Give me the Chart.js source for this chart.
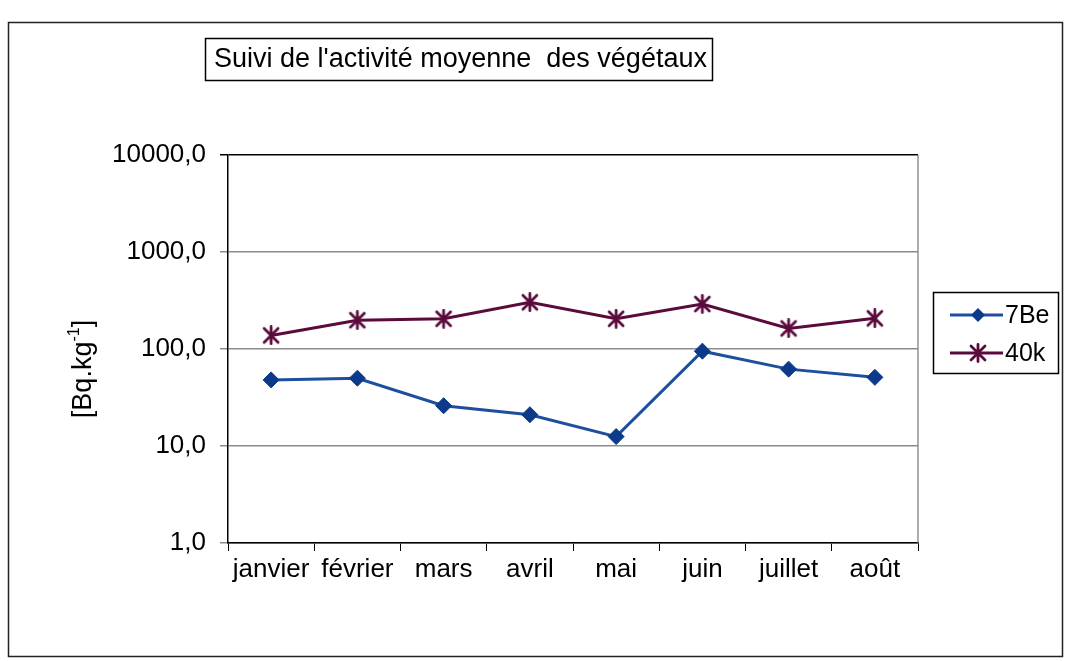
<!DOCTYPE html>
<html>
<head>
<meta charset="utf-8">
<script src="https://cdn.jsdelivr.net/npm/chart.js@4/dist/chart.umd.min.js"></script>
<style>
html,body{margin:0;padding:0;background:#fff;}
#wrap{width:1067px;height:661px;}
</style>
</head>
<body>
<div id="wrap"><canvas id="myChart" width="1067" height="661"></canvas></div>
<script>
// donnees
let mois=['janvier','février','mars','avril','mai','juin','juillet','août'];
let act7Be=[48,50,26,21,12.5,95,62,51];
let act40k=[138,198,205,303,205,291,163,207];
let ticksY=[1,10,100,1000,10000];
let titre="Suivi de l'activité moyenne  des végétaux";

let police='"Liberation Sans", Arial, sans-serif';
let bleu='#1d4f9e';
let bleuFonce='#0b3a8a';
let bordeaux='#5a0b3c';

// marqueur etoile facon Excel (X + barre verticale)
let etoile=document.createElement('canvas');
etoile.width=20; etoile.height=20;
(function(){
    let c=etoile.getContext('2d');
    c.strokeStyle=bordeaux; c.lineWidth=2.8; c.lineCap='round';
    c.beginPath();
    c.moveTo(3,3); c.lineTo(17,17);
    c.moveTo(17,3); c.lineTo(3,17);
    c.moveTo(10,1.5); c.lineTo(10,18.5);
    c.stroke();
})();

function losange(c,x,y,r){
    c.beginPath();
    c.moveTo(x,y-r); c.lineTo(x+r,y); c.lineTo(x,y+r); c.lineTo(x-r,y);
    c.closePath();
    c.fillStyle=bleuFonce; c.fill();
}

let decor={
    id:'decor',
    beforeDraw(chart){
        let c=chart.ctx;
        c.save(); c.fillStyle='#fff'; c.fillRect(0,0,chart.width,chart.height); c.restore();
    },
    afterDraw(chart){
        let c=chart.ctx, a=chart.chartArea;
        c.save();
        // bord droit de la zone de tracé
        c.strokeStyle='#777'; c.lineWidth=1.2;
        c.beginPath(); c.moveTo(a.right,a.top); c.lineTo(a.right,a.bottom); c.stroke();

        // cadre exterieur
        c.strokeStyle='#222'; c.lineWidth=1.5;
        c.strokeRect(8.5,22.5,1054,634);

        // titre encadré
        c.strokeStyle='#000'; c.lineWidth=1.5;
        c.strokeRect(205.5,38.5,507,42);
        c.fillStyle='#000'; c.font='27px '+police;
        c.textBaseline='middle'; c.textAlign='left';
        c.fillText(titre,214,60);

        // titre axe y avec exposant
        c.translate(84,369); c.rotate(-Math.PI/2);
        let t1='[Bq.kg', t2='-1', t3=']';
        c.font='27px '+police; let w1=c.measureText(t1).width, w3=c.measureText(t3).width;
        c.font='16px '+police; let w2=c.measureText(t2).width;
        let x0=-(w1+w2+w3)/2;
        c.textAlign='left'; c.textBaseline='middle';
        c.font='27px '+police; c.fillText(t1,x0,0);
        c.font='16px '+police; c.fillText(t2,x0+w1,-9);
        c.font='27px '+police; c.fillText(t3,x0+w1+w2,0);
        c.setTransform(1,0,0,1,0,0);

        // legende
        c.strokeStyle='#000'; c.lineWidth=1.5;
        c.strokeRect(933.5,292.5,125,81);
        chart.data.datasets.forEach(function(ds,i){
            let y=315+i*38;
            c.strokeStyle=ds.borderColor; c.lineWidth=3;
            c.beginPath(); c.moveTo(950,y); c.lineTo(1003,y); c.stroke();
            if(ds.pointStyle==='rectRot') losange(c,978,y,7);
            else c.drawImage(etoile,978-10,y-10);
            c.fillStyle='#000'; c.font='25px '+police;
            c.textAlign='left'; c.textBaseline='middle';
            c.fillText(ds.label,1005,y+1);
        });
        c.restore();
    }
};

var ctx=document.getElementById('myChart').getContext('2d');
var chart=new Chart(ctx,{
    type:'line',
    data:{
        labels:mois,
        datasets:[
            {
                label:'7Be',
                data:act7Be,
                borderColor:bleu,
                backgroundColor:bleuFonce,
                borderWidth:3,
                pointStyle:'rectRot',
                pointRadius:8,
                pointBackgroundColor:bleuFonce,
                pointBorderColor:bleuFonce,
                pointBorderWidth:1,
                tension:0
            },
            {
                label:'40k',
                data:act40k,
                borderColor:bordeaux,
                backgroundColor:bordeaux,
                borderWidth:3,
                pointStyle:etoile,
                pointRadius:10,
                tension:0
            }
        ]
    },
    options:{
        responsive:false,
        animation:false,
        layout:{padding:{left:10,top:155,right:149,bottom:58}},
        plugins:{legend:{display:false},title:{display:false},tooltip:{enabled:false}},
        scales:{
            x:{
                offset:true,
                grid:{display:true,drawOnChartArea:false,drawTicks:true,tickLength:8,color:'#000',offset:true},
                border:{display:true,color:'#000',width:1.5},
                ticks:{color:'#000',font:{family:police,size:26},padding:3,maxRotation:0,autoSkip:false},
                afterFit:function(s){s.height=60;}
            },
            y:{
                type:'logarithmic',
                min:1,max:10000,
                afterBuildTicks:function(s){s.ticks=ticksY.map(function(v){return {value:v};});},
                afterFit:function(s){s.width=218;},
                grid:{
                    drawTicks:true,tickLength:8,
                    color:function(c){return c.tick && c.tick.value===10000 ? '#000' : '#8c8c8c';},
                    lineWidth:1.5
                },
                border:{display:true,color:'#000',width:1.5},
                ticks:{
                    color:'#000',font:{family:police,size:26},padding:14,
                    callback:function(v){return Number(v).toFixed(1).replace('.',',');}
                }
            }
        }
    },
    plugins:[decor]
});
</script>
</body>
</html>
